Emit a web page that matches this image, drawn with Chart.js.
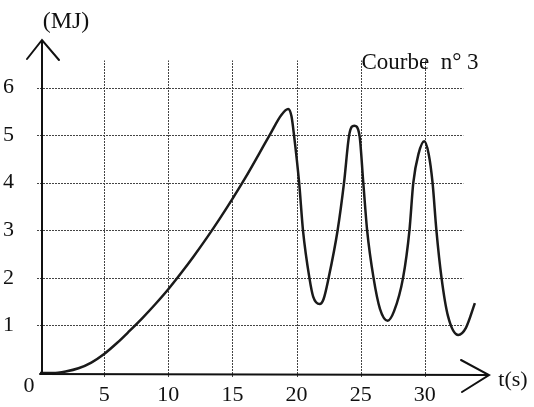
<!DOCTYPE html>
<html>
<head>
<meta charset="utf-8">
<script src="https://cdn.jsdelivr.net/npm/chart.js@4.4.1/dist/chart.umd.min.js"></script>
<style>
html,body{margin:0;padding:0;background:#fff;}
#wrap{width:534px;height:407px;position:relative;}
</style>
</head>
<body>
<div id="wrap"><canvas id="c" width="534" height="407"></canvas></div>
<script>
// time (s)
const tValues = [0, 1, 1.4, 2, 3, 4, 5, 6, 7, 8, 9, 10, 11, 12, 13, 14, 15, 16, 17, 18, 18.8, 19.35, 19.6, 19.8, 20.2, 20.5, 21.0, 21.3, 21.8, 22.1, 22.5, 23.2, 23.7, 24.1, 24.5, 24.9, 25.2, 25.5, 26.0, 26.5, 27.1, 27.6, 28.3, 28.8, 29.1, 29.5, 29.95, 30.3, 30.6, 30.9, 31.3, 31.8, 32.6, 33.2, 33.9];
// energy (MJ)
const energyValues = [0, 0, 0.005, 0.03, 0.1, 0.22, 0.4, 0.63, 0.89, 1.16, 1.45, 1.76, 2.1, 2.46, 2.84, 3.24, 3.66, 4.1, 4.57, 5.05, 5.42, 5.55, 5.4, 5.0, 4.0, 3.0, 2.0, 1.6, 1.45, 1.55, 2.0, 3.0, 4.0, 5.0, 5.2, 5.0, 4.0, 3.0, 2.0, 1.35, 1.1, 1.3, 2.0, 3.0, 4.0, 4.6, 4.87, 4.6, 4.0, 3.0, 2.0, 1.2, 0.8, 0.95, 1.47];
const xTicks = [5, 10, 15, 20, 25, 30];
const yTicks = [1, 2, 3, 4, 5, 6];
const yLabel = "(MJ)";
const xLabel = "t(s)";
const titleText = "Courbe  n° 3";
const originLabel = "0";

const FONT = "'Liberation Serif', 'DejaVu Serif', serif";

const drawPlugin = {
  id: 'paperAxes',
  beforeDatasetsDraw(chart) {
    const ctx = chart.ctx, xs = chart.scales.x, ys = chart.scales.y;
    ctx.save();
    ctx.strokeStyle = '#444';
    ctx.lineWidth = 1;
    ctx.setLineDash([2, 1]);
    const x0 = xs.getPixelForValue(0), xEnd = xs.getPixelForValue(33.0);
    yTicks.forEach(v => {
      const y = Math.round(ys.getPixelForValue(v)) + 0.5;
      ctx.beginPath(); ctx.moveTo(x0 - 3, y); ctx.lineTo(xEnd, y); ctx.stroke();
    });
    const y0 = ys.getPixelForValue(0), yTop = ys.getPixelForValue(6.57);
    xTicks.forEach(v => {
      const x = Math.round(xs.getPixelForValue(v)) + 0.5;
      ctx.beginPath(); ctx.moveTo(x, y0 + 4); ctx.lineTo(x, yTop); ctx.stroke();
    });
    ctx.restore();
  },
  afterDatasetsDraw(chart) {
    const ctx = chart.ctx, xs = chart.scales.x, ys = chart.scales.y;
    const x0 = xs.getPixelForValue(0), y0 = ys.getPixelForValue(0);
    const xTip = xs.getPixelForValue(35), yTip = ys.getPixelForValue(7);
    ctx.save();
    ctx.strokeStyle = '#111';
    ctx.lineWidth = 2;
    ctx.lineCap = 'round';
    ctx.beginPath();
    ctx.moveTo(x0 + 2, y0); ctx.lineTo(x0 + 2, yTip);
    ctx.moveTo(x0 + 2 - 15, yTip + 19); ctx.lineTo(x0 + 2, yTip); ctx.lineTo(x0 + 2 + 17, yTip + 20);
    ctx.stroke();
    ctx.beginPath();
    ctx.moveTo(x0, y0 + 1); ctx.lineTo(xTip, y0 + 2);
    ctx.moveTo(xTip - 28, y0 - 13); ctx.lineTo(xTip, y0 + 2); ctx.lineTo(xTip - 27, y0 + 19);
    ctx.stroke();
    ctx.fillStyle = '#111';
    ctx.textAlign = 'center';
    ctx.textBaseline = 'middle';
    ctx.font = "24px " + FONT;
    ctx.fillText(yLabel, 66, 22);
    ctx.font = "22px " + FONT;
    ctx.fillText(xLabel, 513, 380);
    ctx.fillText(originLabel, 29, 386);
    ctx.font = "23px " + FONT;
    ctx.fillText(titleText, 420, 63);
    ctx.restore();
  }
};

const points = tValues.map((t, i) => ({ x: t, y: energyValues[i] }));

new Chart(document.getElementById('c'), {
  type: 'line',
  data: {
    datasets: [{
      data: points,
      borderColor: '#1a1a1a',
      borderWidth: 2.5,
      pointRadius: 0,
      cubicInterpolationMode: 'monotone',
      fill: false
    }]
  },
  options: {
    responsive: false,
    animation: false,
    layout: { padding: { top: 40, right: 45, left: 0, bottom: 0 } },
    plugins: { legend: { display: false }, tooltip: { enabled: false } },
    scales: {
      x: {
        type: 'linear', min: 0, max: 35,
        grid: { display: false },
        border: { display: false },
        afterBuildTicks: s => { s.ticks = xTicks.map(v => ({ value: v })); },
        afterFit: s => { s.height = 34; },
        ticks: { color: '#111', font: { family: FONT, size: 22 }, padding: 1, maxRotation: 0, autoSkip: false }
      },
      y: {
        type: 'linear', min: 0, max: 7,
        grid: { display: false },
        border: { display: false },
        afterBuildTicks: s => { s.ticks = yTicks.map(v => ({ value: v })); },
        afterFit: s => { s.width = 40; },
        ticks: { color: '#111', font: { family: FONT, size: 22 }, padding: 18 }
      }
    }
  },
  plugins: [drawPlugin]
});
</script>
</body>
</html>
